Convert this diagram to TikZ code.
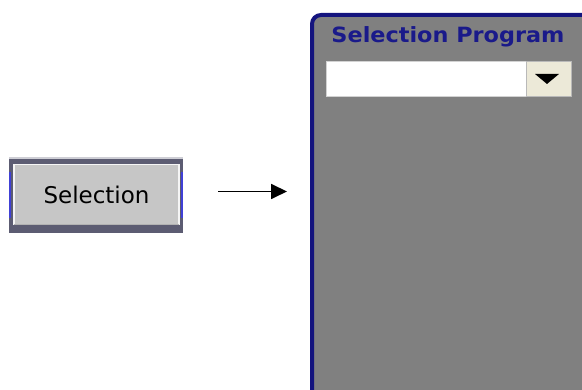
\documentclass[tikz,border=0pt]{standalone}
\usepackage{fontspec}
\setmainfont{DejaVu Sans}
\usetikzlibrary{arrows.meta}
\definecolor{framecol}{HTML}{5C5C72}
\definecolor{glowcol}{HTML}{3A3AF0}
\definecolor{btngray}{HTML}{C6C6C6}
\definecolor{panelgray}{HTML}{808080}
\definecolor{navy}{HTML}{14147E}
\definecolor{titlecol}{HTML}{1A1A8A}
\definecolor{ddface}{HTML}{ECE9D8}
\tikzset{
  framebox/.style={rectangle, fill=framecol, draw=none, minimum width=174pt, minimum height=76pt, inner sep=0pt},
  btnbox/.style={rectangle, fill=btngray, draw=white!92!gray, line width=1.4pt, minimum width=165pt, minimum height=60pt, inner sep=0pt,
    font=\fontsize{23}{27}\selectfont, text=black},
  panelbox/.style={rectangle, fill=panelgray, draw=navy, line width=4pt, rounded corners=9pt, minimum width=290pt, minimum height=420pt, inner sep=0pt},
  titletext/.style={font=\fontsize{21}{25}\selectfont\bfseries, text=titlecol, inner sep=0pt},
  fieldbox/.style={rectangle, fill=white, draw=gray!35, line width=0.8pt, minimum width=200pt, minimum height=35pt, inner sep=0pt},
  ddbtnbox/.style={rectangle, fill=ddface, draw=gray!55, line width=0.8pt, minimum width=45pt, minimum height=35pt, inner sep=0pt},
  connector/.style={line width=1.8pt, -{Triangle[length=16pt,width=15pt]}},
}
\begin{document}
\begin{tikzpicture}[x=1pt,y=1pt]
\useasboundingbox (0,0) rectangle (582,390);
% left button
\node[framebox] (frame) at (96,195) {};
\fill[white!70!framecol] (9,231) rectangle (183,233);
\draw[glowcol, line width=1.6pt, opacity=0.8] (10,172) -- (10,218);
\draw[glowcol, line width=1.6pt, opacity=0.8] (182,172) -- (182,218);
\node[btnbox] (btn) at (96.5,195.5) {\raisebox{-3pt}{Selection}};
\draw[gray!60, line width=1pt] (btn.south west) ++(1,0.8) -- ([shift={(-1,0.8)}]btn.south east);
% panel
\node[panelbox, anchor=north west] (panel) at (310,377) {};
\node[titletext, anchor=base] (title) at (448,347) {\scalebox{1.065}[1]{Selection Program}};
\node[fieldbox, anchor=north west] (field) at (326,329) {};
\node[ddbtnbox, anchor=north west] (ddbtn) at (526,329) {};
\fill[black] (535,316) -- (559,316) -- (547,306) -- cycle;
% arrow
\coordinate (a1) at (218,198.5);
\coordinate (a2) at (287,198.5);
\draw[connector] (a1) -- (a2);
\end{tikzpicture}
\end{document}
